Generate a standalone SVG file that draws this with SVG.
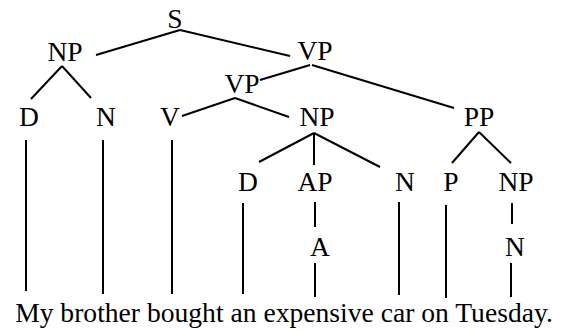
<svg xmlns="http://www.w3.org/2000/svg" width="566" height="331" viewBox="0 0 566 331">
<style>
text{font-family:"Liberation Serif","Times New Roman",serif;font-size:27.5px;fill:#000;text-anchor:middle}
line{stroke:#000;stroke-width:2;stroke-linecap:butt}
</style>
<rect width="566" height="331" fill="#fff"/>
<g id="connectors">
<line x1="180" y1="30" x2="96" y2="55"/>
<line x1="180" y1="30" x2="290" y2="56"/>
<line x1="62" y1="66" x2="31" y2="99"/>
<line x1="62" y1="66" x2="91" y2="98"/>
<line x1="310" y1="65" x2="260" y2="80"/>
<line x1="312" y1="65" x2="454" y2="108"/>
<line x1="235" y1="98" x2="182" y2="116"/>
<line x1="235" y1="98" x2="289" y2="117"/>
<line x1="314" y1="133" x2="259" y2="162"/>
<line x1="314" y1="133" x2="314" y2="165"/>
<line x1="314" y1="133" x2="380" y2="167"/>
<line x1="479" y1="132" x2="452" y2="163"/>
<line x1="479" y1="132" x2="511" y2="163"/>
<line x1="26" y1="140" x2="26" y2="291"/>
<line x1="103" y1="140" x2="103" y2="294"/>
<line x1="172" y1="140" x2="172" y2="294"/>
<line x1="243" y1="203" x2="243" y2="294"/>
<line x1="315" y1="202" x2="315" y2="227"/>
<line x1="315" y1="263" x2="315" y2="297"/>
<line x1="399" y1="202" x2="399" y2="295"/>
<line x1="446" y1="205" x2="446" y2="298"/>
<line x1="512" y1="203" x2="512" y2="224"/>
<line x1="511" y1="263" x2="511" y2="297"/>
</g>
<g id="S"><text x="175" y="28">S</text></g>
<g id="NP1"><text x="65" y="61">NP</text></g>
<g id="VP1"><text x="315" y="60">VP</text></g>
<g id="VP2"><text x="242" y="93">VP</text></g>
<g id="D1"><text x="29" y="126">D</text></g>
<g id="N1"><text x="106" y="126">N</text></g>
<g id="V"><text x="170" y="126">V</text></g>
<g id="NP2"><text x="317" y="126">NP</text></g>
<g id="PP"><text x="479" y="126">PP</text></g>
<g id="D2"><text x="248" y="191">D</text></g>
<g id="AP"><text x="315" y="191">AP</text></g>
<g id="N2"><text x="405" y="191">N</text></g>
<g id="P"><text x="451" y="191">P</text></g>
<g id="NP3"><text x="516" y="191">NP</text></g>
<g id="A"><text x="320" y="256">A</text></g>
<g id="N3"><text x="515" y="256">N</text></g>
<g id="sentence"><text x="284" y="322" style="font-size:27.6px">My brother bought an expensive car on Tuesday.</text></g>
</svg>
